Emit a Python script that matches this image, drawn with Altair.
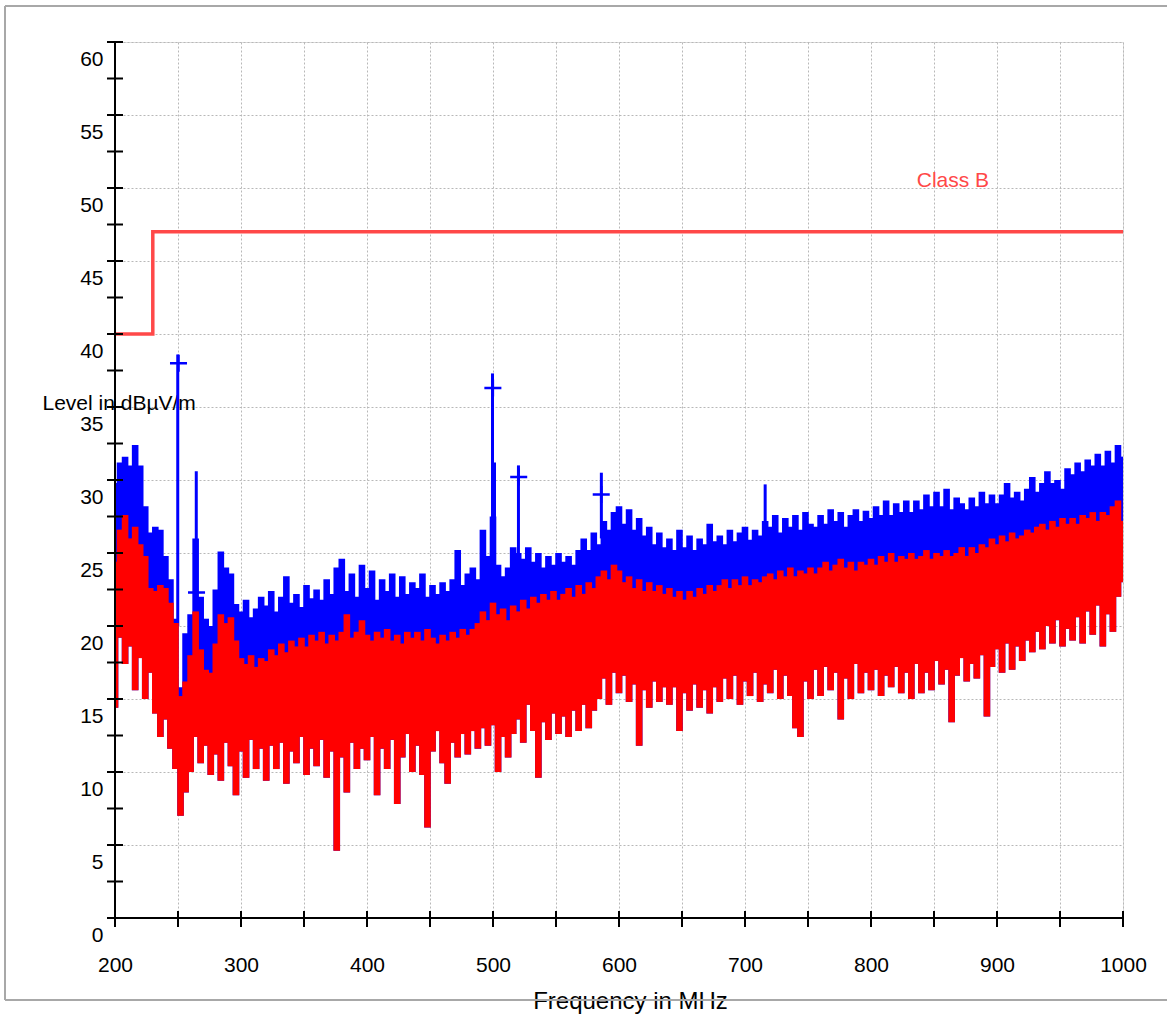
import altair as alt
import pandas as pd

# ---- sweep bins (MHz) and measured envelopes (dBµV/m) ----
freq = list(range(200, 1001, 4))

blue_hi = [
    29.8, 31.2, 31.6, 31.0, 32.4, 31.0, 28.2, 26.4, 26.8, 26.6,
    24.8, 23.2, 20.5, 15.8, 19.5, 20.8, 26.0, 22.0, 20.5, 20.0,
    22.5, 25.1, 24.0, 23.6, 21.5, 21.0, 21.8, 20.6, 21.2, 22.0,
    21.4, 22.4, 21.0, 22.0, 23.4, 21.6, 22.2, 21.3, 22.8, 21.9,
    22.5, 21.8, 23.2, 22.2, 24.0, 24.6, 22.4, 23.6, 22.0, 24.2,
    22.6, 23.8, 21.8, 23.2, 22.4, 23.6, 22.0, 23.4, 22.2, 23.0,
    22.6, 23.6, 22.0, 22.8, 22.2, 23.0, 22.4, 23.2, 25.2, 22.8,
    23.6, 24.0, 23.2, 26.6, 24.8, 27.5, 24.2, 23.4, 24.0, 25.4,
    25.0, 24.6, 25.4, 24.4, 25.0, 24.0, 24.8, 24.2, 25.0, 24.4,
    24.8, 24.2, 25.2, 26.0, 25.2, 26.4, 25.6, 27.2, 26.6, 27.8,
    28.2, 27.0, 28.0, 26.6, 27.4, 26.2, 26.8, 25.6, 26.4, 25.4,
    26.0, 25.2, 26.6, 25.4, 26.2, 25.2, 26.0, 25.6, 27.0, 25.8,
    26.2, 25.6, 26.6, 25.8, 26.4, 26.8, 25.9, 26.6, 26.2, 27.2,
    26.8, 27.6, 26.4, 27.4, 26.8, 27.6, 26.6, 27.8, 27.0, 26.8,
    27.6, 27.0, 28.0, 27.2, 27.8, 26.8, 27.6, 28.0, 27.2, 27.9,
    27.4, 28.2, 27.6, 28.6, 27.6, 28.4, 27.8, 28.6, 27.8, 28.6,
    28.0, 29.0, 28.2, 29.2, 28.2, 29.4, 28.0, 28.8, 28.4, 28.0,
    28.8, 28.2, 29.2, 28.4, 29.0, 28.4, 29.0, 29.8, 28.8, 29.2,
    28.6, 29.4, 30.2, 29.2, 29.8, 30.6, 29.8, 30.0, 29.4, 30.8,
    30.4, 31.2, 30.6, 31.4, 31.0, 31.8, 31.0, 32.0, 31.2, 32.4,
    31.6,
]

red_hi = [
    24.4, 26.6, 27.6, 26.0, 26.8, 25.6, 24.8, 22.6, 22.4, 22.8,
    22.6, 21.6, 20.2, 15.2, 16.2, 18.0, 21.0, 18.4, 17.0, 16.8,
    18.8, 20.8, 20.2, 20.6, 19.0, 17.8, 17.4, 18.0, 17.2, 17.8,
    17.6, 18.4, 18.0, 18.8, 18.2, 19.0, 18.6, 19.2, 18.6, 19.4,
    19.0, 19.6, 18.8, 19.4, 19.0, 19.6, 20.8, 19.2, 19.6, 20.4,
    19.4, 19.0, 19.6, 19.2, 19.8, 19.0, 19.4, 18.8, 19.6, 19.2,
    19.6, 19.0, 19.8, 19.2, 18.8, 19.4, 19.0, 19.6, 19.2, 19.8,
    19.4, 19.8, 20.2, 21.0, 20.4, 21.6, 20.8, 21.2, 20.4, 21.4,
    21.0, 21.8, 21.2, 22.0, 21.6, 22.2, 21.8, 22.4, 21.8, 22.2,
    22.6, 22.0, 22.8, 22.2, 23.0, 22.6, 23.4, 23.8, 23.2, 24.2,
    23.8, 23.0, 23.4, 22.6, 23.2, 22.4, 23.0, 22.4, 22.8, 22.2,
    22.6, 22.0, 22.4, 21.8, 22.4, 22.0, 22.6, 22.2, 22.8, 22.4,
    22.8, 23.2, 22.6, 23.2, 22.8, 23.4, 22.8, 23.2, 23.0, 23.4,
    23.6, 23.2, 23.8, 23.4, 24.0, 23.4, 23.8, 23.6, 24.0, 23.6,
    24.0, 24.4, 23.8, 24.2, 24.6, 24.0, 24.4, 23.8, 24.4, 24.2,
    24.6, 24.2, 24.8, 24.4, 25.0, 24.4, 24.8, 24.6, 25.0, 24.6,
    24.8, 25.2, 24.6, 25.0, 24.8, 25.2, 24.8, 25.0, 25.4, 24.8,
    25.4, 25.0, 25.6, 25.4, 26.0, 25.6, 26.2, 25.8, 26.4, 26.0,
    26.2, 26.6, 26.4, 26.8, 27.0, 26.6, 27.2, 26.8, 27.4, 27.0,
    27.4, 27.0, 27.6, 27.4, 27.8, 27.2, 27.8, 27.6, 28.2, 28.6,
    27.2,
]

red_lo = [
    14.4, 19.2, 17.4, 18.6, 15.6, 17.8, 15.0, 16.8, 14.0, 12.4,
    13.6, 11.6, 10.2, 7.0, 8.6, 10.0, 12.4, 10.6, 11.8, 9.8,
    11.2, 9.4, 12.0, 10.4, 8.4, 11.4, 9.6, 12.2, 10.2, 11.6,
    9.4, 11.8, 10.2, 12.0, 9.2, 11.4, 10.6, 12.4, 9.8, 11.6,
    10.4, 12.2, 9.6, 11.4, 4.6, 11.0, 8.6, 12.0, 10.2, 11.6,
    10.8, 12.4, 8.4, 11.6, 10.2, 12.2, 7.8, 11.0, 12.6, 10.0,
    11.8, 9.8, 6.2, 11.4, 12.8, 10.6, 9.2, 12.0, 11.0, 12.6,
    11.2, 12.8, 11.6, 13.0, 11.8, 13.2, 10.0, 12.4, 11.0, 12.6,
    13.6, 12.0, 14.6, 12.8, 9.6, 13.4, 12.2, 14.0, 12.6, 13.8,
    12.4, 14.2, 12.8, 14.6, 13.0, 14.2, 15.0, 16.4, 14.6, 16.8,
    15.4, 16.6, 14.8, 16.0, 11.8, 15.6, 14.4, 16.2, 14.8, 15.8,
    14.6, 15.8, 12.8, 15.4, 14.2, 16.0, 14.4, 15.6, 14.0, 15.8,
    14.8, 16.4, 15.0, 16.6, 14.6, 16.2, 15.2, 16.8, 14.8, 16.0,
    15.4, 17.0, 15.0, 16.6, 15.2, 13.0, 12.4, 16.2, 15.0, 17.0,
    15.2, 17.2, 15.6, 16.8, 13.6, 16.4, 15.0, 17.4, 15.4, 16.8,
    15.6, 17.0, 15.2, 16.6, 15.8, 17.2, 15.4, 16.8, 15.0, 17.4,
    15.4, 16.8, 15.6, 17.6, 16.0, 17.0, 13.4, 16.6, 17.8, 16.2,
    17.4, 16.4, 18.0, 13.8, 17.2, 18.4, 16.8, 18.8, 17.0, 18.6,
    17.6, 19.0, 18.2, 19.6, 18.4, 20.0, 18.8, 20.4, 18.6, 19.8,
    19.0, 20.6, 18.8, 21.0, 19.4, 21.4, 18.6, 20.8, 19.6, 22.0,
    23.0,
]

# narrow spikes of the peak trace
peak_freq = [249.8, 264.5, 499.6, 501.2, 520.2, 586.0, 716.0]
peak_top = [38.6, 30.6, 37.3, 31.2, 31.0, 30.5, 29.7]
peak_base = [20.0, 23.0, 25.0, 25.0, 24.0, 26.0, 26.0]

# final (quasi-peak) measurement points
final_freq = [250.4, 264.7, 499.9, 520.4, 585.9]
final_level = [38.0, 22.3, 36.3, 30.2, 29.0]

# Class B limit line
limit_freq = [200, 230, 230, 1000]
limit_level = [40, 40, 47, 47]
limit_label = ["Class B"]
limit_label_freq = [865]
limit_label_level = [50.5]

# axis ticks
x_ticks = list(range(200, 1001, 50))
y_ticks = [i * 2.5 for i in range(25)]

FONT = "Liberation Sans"
W, H = 1008, 876
BLUE = "#0000ff"
RED = "#ff0000"
LIMIT = "#ff4848"
FRAME = "#a8a8a8"
BIN_W = 6.6  # px; wider than the 5.04 px bin pitch so neighbouring bins overlap

trace = pd.DataFrame({"freq": freq, "blue_hi": blue_hi, "red_hi": red_hi, "red_lo": red_lo})
peaks = pd.DataFrame({"freq": peak_freq, "top": peak_top, "base": peak_base})
finals = pd.DataFrame({"freq": final_freq, "level": final_level})
limit = pd.DataFrame({"freq": limit_freq, "level": limit_level, "idx": list(range(len(limit_freq)))})
label = pd.DataFrame({"freq": limit_label_freq, "level": limit_label_level, "text": limit_label})
xt = pd.DataFrame({"v": x_ticks})
yt = pd.DataFrame({"v": y_ticks})
one = pd.DataFrame({"a": [0]})

xscale = alt.Scale(domain=[200, 1000], nice=False, zero=False)
yscale = alt.Scale(domain=[0, 60], nice=False)
XT = "Frequency in MHz"
YT = "Level in dBµV/m"

x_axis = alt.Axis(
    values=x_ticks,
    labelExpr="datum.value % 100 === 0 ? format(datum.value, 'd') : ''",
    grid=True, gridColor="#b8b8b8", gridDash=[2, 2], gridWidth=1,
    domain=False, ticks=False, tickSize=0,
    labelPadding=36, labelBaseline="top", labelFontSize=21, labelColor="black",
    labelFont=FONT, labelOverlap=False, labelFlush=False, labelBound=False,
    title=XT, titleFont=FONT, titleFontSize=24, titleFontWeight="normal",
    titleColor="black", titleX=515, titleY=83, titleBaseline="middle",
)
y_axis = alt.Axis(
    values=y_ticks,
    labelExpr="datum.value % 5 === 0 ? format(datum.value, 'd') : ''",
    grid=True, gridColor="#b8b8b8", gridDash=[2, 2], gridWidth=1,
    domain=False, ticks=False, tickSize=0,
    labelPadding=12, labelOffset=17, labelBaseline="middle", labelFontSize=21,
    labelColor="black", labelFont=FONT, labelOverlap=False, labelFlush=False, labelBound=False,
    title=YT, titleFont=FONT, titleFontSize=21, titleFontWeight="normal",
    titleColor="black", titleAngle=0, titleAlign="left", titleBaseline="middle",
    titleX=-73, titleY=361,
)

# peak trace (blue) under the average trace (red)
blue = alt.Chart(trace).mark_rule(color=BLUE, strokeWidth=BIN_W, strokeCap="butt", clip=True).encode(
    x=alt.X("freq:Q", scale=xscale, axis=x_axis, title=XT),
    y=alt.Y("blue_hi:Q", scale=yscale, axis=y_axis, title=YT),
    y2="red_lo:Q",
)
spikes = alt.Chart(peaks).mark_rule(color=BLUE, strokeWidth=3, clip=True).encode(
    x=alt.X("freq:Q", title=XT), y=alt.Y("top:Q", title=YT), y2="base:Q"
)
red = alt.Chart(trace).mark_rule(color=RED, strokeWidth=BIN_W, strokeCap="butt", clip=True).encode(
    x=alt.X("freq:Q", title=XT), y=alt.Y("red_hi:Q", title=YT), y2="red_lo:Q"
)
limit_line = alt.Chart(limit).mark_line(color=LIMIT, strokeWidth=3.5).encode(
    x=alt.X("freq:Q", title=XT), y=alt.Y("level:Q", title=YT), order="idx:Q"
)
limit_text = alt.Chart(label).mark_text(color=LIMIT, font=FONT, fontSize=21).encode(
    x=alt.X("freq:Q", title=XT), y=alt.Y("level:Q", title=YT), text="text:N"
)
markers = alt.Chart(finals).mark_point(
    shape="M-1,0H1M0,-1V1", size=290, color=BLUE, strokeWidth=2.5, filled=False, opacity=1
).encode(x=alt.X("freq:Q", title=XT), y=alt.Y("level:Q", title=YT))

# axis lines and crossing tick marks
y_line = alt.Chart(one).mark_rule(color="black", strokeWidth=2).encode(
    x=alt.datum(200), y=alt.datum(0), y2=alt.datum(60)
)
x_line = alt.Chart(one).mark_rule(color="black", strokeWidth=2).encode(
    y=alt.datum(0), x=alt.datum(200), x2=alt.datum(1000)
)
y_tick_marks = alt.Chart(yt).mark_rule(color="black", strokeWidth=2).encode(
    y=alt.Y("v:Q", title=YT), x=alt.value(-8), x2=alt.value(8)
)
x_tick_marks = alt.Chart(xt).mark_rule(color="black", strokeWidth=2).encode(
    x=alt.X("v:Q", title=XT), y=alt.value(H - 7), y2=alt.value(H + 9)
)

# outer frame
frame_top = alt.Chart(one).mark_rule(color=FRAME, strokeWidth=2).encode(
    x=alt.value(-110), x2=alt.value(1052), y=alt.value(-36)
)
frame_left = alt.Chart(one).mark_rule(color=FRAME, strokeWidth=2).encode(
    x=alt.value(-110), y=alt.value(-36), y2=alt.value(958)
)
frame_bottom = alt.Chart(one).mark_rule(color=FRAME, strokeWidth=2).encode(
    x=alt.value(-110), x2=alt.value(1052), y=alt.value(958)
)

chart = alt.layer(
    blue, spikes, red, limit_line, limit_text, markers,
    y_line, x_line, y_tick_marks, x_tick_marks,
    frame_top, frame_left, frame_bottom,
).properties(
    width=W, height=H,
    autosize=alt.AutoSizeParams(type="none"),
    padding={"left": 115, "top": 42, "right": 44, "bottom": 97},
    background="white",
).configure_view(stroke=None).configure(font=FONT)

chart.save("out.html", embed_options={"renderer": "svg", "actions": False})
